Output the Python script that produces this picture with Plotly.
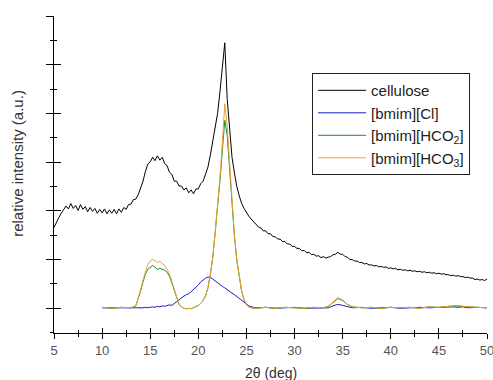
import plotly.graph_objects as go

# ---------------- data ----------------
two_theta_cellulose = [5 + 0.25 * i for i in range(181)]
cellulose = [
    1.66, 1.78, 1.86, 1.95, 2.02, 2.10, 2.04, 2.15, 2.05, 2.11, 2.01, 2.13, 2.03, 2.09, 1.98, 2.07, 1.99, 2.05, 1.95, 2.03,
    1.96, 2.04, 1.94, 2.02, 1.95, 2.03, 1.94, 2.04, 1.97, 2.07, 2.03, 2.13, 2.14, 2.23, 2.24, 2.33, 2.47, 2.61, 2.81, 2.96,
    3.01, 3.10, 3.03, 3.13, 3.04, 3.10, 2.97, 2.93, 2.79, 2.75, 2.61, 2.61, 2.51, 2.51, 2.43, 2.47, 2.37, 2.43, 2.35, 2.45,
    2.45, 2.56, 2.61, 2.77, 2.90, 3.15, 3.45, 3.75, 4.00, 4.45, 4.95, 5.45, 4.30, 3.60, 3.10, 2.78, 2.50, 2.31, 2.15, 2.05,
    1.96, 1.89, 1.83, 1.77, 1.73, 1.67, 1.65, 1.59, 1.59, 1.53, 1.53, 1.47, 1.47, 1.42, 1.42, 1.37, 1.37, 1.32, 1.32, 1.27,
    1.27, 1.23, 1.23, 1.18, 1.19, 1.14, 1.15, 1.10, 1.11, 1.07, 1.08, 1.04, 1.06, 1.03, 1.05, 1.06, 1.10, 1.11, 1.15, 1.11,
    1.11, 1.06, 1.05, 1.00, 1.00, 0.97, 0.97, 0.94, 0.94, 0.91, 0.92, 0.89, 0.89, 0.87, 0.88, 0.85, 0.86, 0.84, 0.85, 0.82,
    0.83, 0.81, 0.82, 0.79, 0.80, 0.78, 0.79, 0.77, 0.78, 0.76, 0.77, 0.75, 0.76, 0.74, 0.75, 0.73, 0.74, 0.72, 0.73, 0.71,
    0.72, 0.70, 0.71, 0.69, 0.69, 0.67, 0.68, 0.66, 0.67, 0.65, 0.65, 0.63, 0.64, 0.62, 0.62, 0.59, 0.60, 0.58, 0.59, 0.57,
    0.60,
]

two_theta_il = [
    10, 11, 12, 13, 13.5, 13.75,
    14, 14.25, 14.5, 14.75, 15, 15.25, 15.5, 15.75, 16, 16.25, 16.5, 16.75,
    17, 17.25, 17.5, 17.75, 18, 18.25, 18.5, 18.75, 19, 19.25, 19.5, 19.75,
    20, 20.25, 20.5, 20.75, 21, 21.25, 21.5, 21.75, 22, 22.25, 22.5, 22.75,
    23, 23.25, 23.5, 23.75, 24, 24.25, 24.5, 24.75, 25, 25.25, 25.5,
    26, 27, 28, 29, 30, 31, 32, 33,
    33.5, 34, 34.5, 35, 35.5, 36,
    37, 38, 39, 40, 41, 42, 43, 44, 45, 46,
    46.5, 47, 47.5, 48, 49, 50,
]
bmim_cl = [
    0.01, 0.01, 0.00, 0.01, 0.00, 0.01,
    0.00, 0.01, 0.02, 0.01, 0.02, 0.03, 0.02, 0.04, 0.03, 0.05, 0.04, 0.06,
    0.07, 0.06, 0.10, 0.14, 0.18, 0.22, 0.25, 0.28, 0.30, 0.34, 0.38, 0.43,
    0.48, 0.54, 0.58, 0.62, 0.64, 0.63, 0.60, 0.56, 0.53, 0.49, 0.45, 0.42,
    0.38, 0.35, 0.31, 0.28, 0.24, 0.20, 0.17, 0.13, 0.09, 0.05, 0.03,
    0.01, 0.02, 0.00, 0.01, 0.02, 0.00, 0.01, 0.01,
    0.01, 0.05, 0.08, 0.06, 0.03, 0.01,
    0.02, 0.00, 0.01, 0.02, 0.00, 0.01, 0.02, 0.01, 0.02, 0.02,
    0.03, 0.02, 0.03, 0.01, 0.02, 0.01,
]
bmim_hco2 = [
    0.02, 0.00, 0.02, 0.01, 0.05, 0.18,
    0.35, 0.54, 0.70, 0.80, 0.85, 0.88, 0.84, 0.80, 0.82, 0.80, 0.78, 0.74,
    0.66, 0.52, 0.36, 0.19, 0.08, 0.03, 0.00, -0.01, 0.00, -0.01, 0.01, 0.03,
    0.06, 0.10, 0.16, 0.26, 0.42, 0.70, 1.05, 1.55, 2.05, 2.62, 3.25, 3.86,
    3.55, 2.85, 2.10, 1.48, 0.98, 0.61, 0.35, 0.17, 0.07, 0.03, 0.01,
    0.00, 0.02, 0.00, 0.02, 0.01, 0.00, 0.02, 0.01,
    0.04, 0.13, 0.20, 0.16, 0.08, 0.03,
    0.01, 0.02, 0.00, 0.02, 0.01, 0.02, 0.00, 0.03, 0.02, 0.04,
    0.05, 0.05, 0.04, 0.03, 0.02, 0.01,
]
bmim_hco3 = [
    0.02, 0.00, 0.02, 0.01, 0.05, 0.20,
    0.38, 0.58, 0.76, 0.90, 0.97, 1.00, 0.98, 0.94, 0.96, 0.92, 0.88, 0.80,
    0.70, 0.55, 0.38, 0.20, 0.08, 0.03, 0.00, -0.01, 0.00, -0.01, 0.01, 0.03,
    0.06, 0.10, 0.16, 0.26, 0.42, 0.70, 1.05, 1.55, 2.10, 2.70, 3.40, 4.20,
    3.75, 2.95, 2.15, 1.50, 1.00, 0.62, 0.36, 0.18, 0.08, 0.03, 0.01,
    0.00, 0.02, 0.00, 0.02, 0.01, 0.00, 0.02, 0.01,
    0.04, 0.14, 0.22, 0.17, 0.08, 0.03,
    0.01, 0.02, 0.00, 0.02, 0.01, 0.02, 0.00, 0.03, 0.02, 0.04,
    0.05, 0.06, 0.04, 0.03, 0.02, 0.01,
]

names = ["cellulose", "[bmim][Cl]", "[bmim][HCO<sub>2</sub>]", "[bmim][HCO<sub>3</sub>]"]
colors = ["#000000", "#1a1acc", "#1f8a2a", "#f0a030"]

x_range = [5, 50]
y_range = [-0.507, 6]
x_ticks = [5, 10, 15, 20, 25, 30, 35, 40, 45, 50]

# ---------------- figure ----------------
fig = go.Figure()
series = [
    (two_theta_cellulose, cellulose),
    (two_theta_il, bmim_cl),
    (two_theta_il, bmim_hco2),
    (two_theta_il, bmim_hco3),
]
for (xs, ys), name, col in zip(series, names, colors):
    fig.add_trace(go.Scatter(x=xs, y=ys, mode="lines", name=name,
                             line=dict(color=col, width=1)))

# helper trace so that the overlaid (inside-tick) axes get drawn
fig.add_trace(go.Scatter(x=[None], y=[None], xaxis="x2", yaxis="y2",
                         showlegend=False, hoverinfo="skip"))

font_family = "Liberation Sans, Arial, sans-serif"

fig.update_layout(
    width=493, height=380,
    margin=dict(l=54, r=6, t=16, b=47),
    paper_bgcolor="white", plot_bgcolor="white",
    font=dict(family=font_family, size=12, color="#333333"),
    showlegend=True,
    legend=dict(
        x=0.596, y=0.82, xanchor="left", yanchor="top",
        bgcolor="white", bordercolor="#222222", borderwidth=1,
        font=dict(family=font_family, size=15, color="#222222"),
        itemwidth=48, tracegroupgap=0,
    ),
    xaxis=dict(
        range=x_range, tickvals=x_ticks, ticks="outside", ticklen=5, tickwidth=1,
        tickcolor="black", showline=True, linecolor="black", linewidth=1,
        showgrid=False, zeroline=False, mirror=False, automargin=False,
        ticklabeloverflow="allow",
        tickfont=dict(size=13, color="#555555"),
        minor=dict(dtick=2.5, tick0=5, ticks="outside", ticklen=3, tickcolor="black", showgrid=False),
    ),
    xaxis2=dict(
        range=x_range, overlaying="x", anchor="y", side="bottom",
        tickvals=x_ticks, ticks="inside", ticklen=5, tickwidth=1, tickcolor="black",
        showticklabels=False, showline=False, showgrid=False, zeroline=False,
        minor=dict(dtick=2.5, tick0=5, ticks="inside", ticklen=3, tickcolor="black", showgrid=False),
    ),
    yaxis=dict(
        range=y_range, tick0=0, dtick=1, ticks="outside", ticklen=7, tickwidth=1,
        tickcolor="black", showline=True, linecolor="black", linewidth=1,
        showticklabels=False, showgrid=False, zeroline=False, automargin=False,
        minor=dict(dtick=0.5, tick0=0, ticks="outside", ticklen=3, tickcolor="black", showgrid=False),
    ),
    yaxis2=dict(
        range=y_range, overlaying="y", anchor="x", side="left",
        tick0=0, dtick=1, ticks="inside", ticklen=7, tickwidth=1, tickcolor="black",
        showticklabels=False, showline=False, showgrid=False, zeroline=False,
        minor=dict(dtick=0.5, tick0=0, ticks="inside", ticklen=3, tickcolor="black", showgrid=False),
    ),
    annotations=[
        dict(text="2θ (deg)", xref="paper", yref="paper", x=0.5, y=-0.126,
             xanchor="center", yanchor="middle", showarrow=False,
             font=dict(size=14, color="#333333")),
        dict(text="relative intensity (a.u.)", xref="paper", yref="paper",
             x=-0.086, y=0.536, xanchor="center", yanchor="middle", textangle=-90,
             showarrow=False, font=dict(size=15, color="#333333")),
    ],
)

fig.write_html("out.html", config={"displayModeBar": False},
               post_script="document.body.style.margin='0px';")
